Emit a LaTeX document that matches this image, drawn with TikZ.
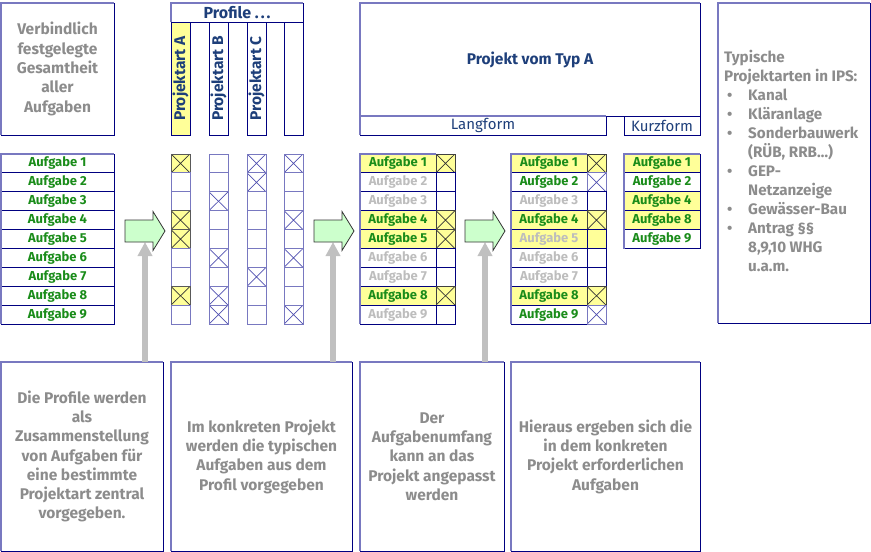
\documentclass[tikz,border=0pt]{standalone}
\usepackage{fontspec}
\setmainfont{Fira Sans}
\usetikzlibrary{arrows.meta}
\definecolor{navyD}{HTML}{000080}
\definecolor{navyL}{HTML}{7878C0}
\definecolor{blueX}{HTML}{5050B0}
\definecolor{txtnavy}{HTML}{1E3F7A}
\definecolor{tgreen}{HTML}{1A8C1A}
\definecolor{tgray}{HTML}{8C8C8C}
\definecolor{tlight}{HTML}{BDBDBD}
\definecolor{yel}{HTML}{FFFF99}
\definecolor{agreen}{HTML}{CCFFCC}
\definecolor{garrow}{HTML}{C0C0C0}
\newcommand\bul{\makebox[24pt][l]{\hspace{3pt}•}}
\newcommand\ind{\hspace*{24pt}}
\tikzset{
  base/.style={anchor=north west, inner sep=0pt, outer sep=0pt, draw=navyD, line width=1pt,
    font=\bfseries\fontsize{13}{15}\selectfont},
  big/.style={base, font=\bfseries\fontsize{15.5}{19.3}\selectfont, align=center},
  lightE/.style={draw=navyL, line width=1.3pt},
  xmark/.style={path picture={\draw[#1, line width=0.7pt]
     (path picture bounding box.north west) -- (path picture bounding box.south east)
     (path picture bounding box.south west) -- (path picture bounding box.north east);}},
  rowc/.style={base, minimum width=76pt, minimum height=18.9pt},
  chkc/.style={base, minimum width=19pt, minimum height=18.9pt},
  pcell/.style={base, draw=navyL, minimum width=19pt, minimum height=18.9pt},
  pcE/.style={},
  pcX/.style={xmark=blueX},
  pcY/.style={fill=yel, draw=black!65, xmark=black!80},
  rYel/.style={fill=yel, text=tgreen},
  rGray/.style={text=tlight},
  rWht/.style={text=tgreen},
  rYG/.style={fill=yel, text=tlight},
  cYel/.style={fill=yel, draw=black!75, xmark=black!80},
  cEmp/.style={},
  cBlu/.style={draw=navyL, xmark=blueX},
  cYE/.style={fill=yel},
  garr/.style={draw=garrow, line width=6pt, -{Triangle[width=14pt,length=14pt]}},
  gshape/.style={fill=agreen, draw=black!80, line width=0.8pt, line join=miter},
  rotlab/.style={rotate=90, text=txtnavy, inner sep=0pt, font=\bfseries\fontsize{15.5}{18}\selectfont},
}
\begin{document}
\begin{tikzpicture}[x=1pt,y=-1pt]
\useasboundingbox (0,0) rectangle (871,552);

% ---- top row ----
\node[big, text=tgray, minimum width=113pt, minimum height=132pt] (ges) at (1,3)
  {Verbindlich\\festgelegte\\Gesamtheit\\aller\\Aufgaben};
\node[base, font=\bfseries\fontsize{16}{18}\selectfont, text=txtnavy, minimum width=132pt, minimum height=19pt] (prof) at (171,3) {Profile .\kern2pt.\kern2pt.};
\node[base, fill=yel, minimum width=19pt, minimum height=113pt] (colA) at (171,22) {};
\node[base, minimum width=19pt, minimum height=113pt] (colB) at (209,22) {};
\node[base, minimum width=19pt, minimum height=113pt] (colC) at (247,22) {};
\node[base, minimum width=19pt, minimum height=113pt] (colD) at (284,22) {};
\node[rotlab] (labA) at (colA.center) {Projektart A};
\node[rotlab] (labB) at (colB.center) {Projektart B};
\node[rotlab] (labC) at (colC.center) {Projektart C};

\node[big, text=txtnavy, minimum width=340pt, minimum height=113pt] (proj) at (360,3) {Projekt vom Typ A};
\node[base, font=\fontsize{15}{18}\selectfont, text=txtnavy, minimum width=246pt, minimum height=19pt] (lang) at (360,116) {Langform};
\node[base, font=\fontsize{15}{18}\selectfont, text=txtnavy, minimum width=76pt, minimum height=19pt] (kurz) at (624,116) {Kurzform};

\node[base, minimum width=152pt, minimum height=320pt] (ips) at (718,3) {};
\node[anchor=west, align=left, inner sep=0pt, text=tgray, font=\bfseries\fontsize{15.2}{19}\selectfont] (ipstext)
  at ([xshift=6pt,yshift=2pt]ips.west)
  {Typische\\
   Projektarten in IPS:\\
   \bul Kanal\\
   \bul Kläranlage\\
   \bul Sonderbauwerk\\
   \ind (RÜB, RRB…)\\
   \bul GEP-\\
   \ind Netzanzeige\\
   \bul Gewässer-Bau\\
   \bul Antrag §§\\
   \ind 8,9,10 WHG\\
   \ind u.a.m.};

% ---- list 1 ----
\foreach \i in {1,...,9}{
  \node[base, style=rWht, minimum width=113pt, minimum height=18.9pt] (la-\i) at (1,{154+18.9*(\i-1)}) {Aufgabe \i};
}
% ---- profile cells ----
\foreach \i/\s in {1/pcY,2/pcE,3/pcE,4/pcY,5/pcY,6/pcE,7/pcE,8/pcY,9/pcE}
  \node[pcell, style=\s] (pA-\i) at (171,{154+18.9*(\i-1)}) {};
\foreach \i/\s in {1/pcE,2/pcE,3/pcX,4/pcE,5/pcE,6/pcX,7/pcE,8/pcX,9/pcX}
  \node[pcell, style=\s] (pB-\i) at (209,{154+18.9*(\i-1)}) {};
\foreach \i/\s in {1/pcX,2/pcX,3/pcE,4/pcE,5/pcE,6/pcE,7/pcX,8/pcE,9/pcE}
  \node[pcell, style=\s] (pC-\i) at (247,{154+18.9*(\i-1)}) {};
\foreach \i/\s in {1/pcX,2/pcE,3/pcE,4/pcX,5/pcE,6/pcX,7/pcE,8/pcE,9/pcX}
  \node[pcell, style=\s] (pD-\i) at (284,{154+18.9*(\i-1)}) {};

% ---- list 3 ----
\foreach \i/\t/\c in {1/rYel/cYel,2/rGray/cEmp,3/rGray/cEmp,4/rYel/cYel,5/rYel/cYel,6/rGray/cEmp,7/rGray/cEmp,8/rYel/cYel,9/rGray/cEmp}{
  \node[rowc, style=\t] (lc-\i) at (360,{154+18.9*(\i-1)}) {Aufgabe \i};
  \node[chkc, style=\c] (cc-\i) at (436,{154+18.9*(\i-1)}) {};
}
% ---- list 4 ----
\foreach \i/\t/\c in {1/rYel/cYel,2/rWht/cBlu,3/rGray/cEmp,4/rYel/cYel,5/rYG/cYE,6/rGray/cEmp,7/rGray/cEmp,8/rYel/cYel,9/rWht/cBlu}{
  \node[rowc, style=\t] (ld-\i) at (511,{154+18.9*(\i-1)}) {Aufgabe \i};
  \node[chkc, style=\c] (cd-\i) at (587,{154+18.9*(\i-1)}) {};
}
% ---- list 5 ----
\foreach \k/\n/\t in {1/1/rYel,2/2/rWht,3/4/rYel,4/8/rYel,5/9/rWht}
  \node[rowc, style=\t] (le-\k) at (624,{154+18.9*(\k-1)}) {Aufgabe \n};

% ---- bottom boxes ----
\node[big, text=tgray, minimum width=162pt, minimum height=189pt] (b1) at (1,362)
  {Die Profile werden\\als\\Zusammenstellung\\von Aufgaben für\\eine bestimmte\\Projektart zentral\\vorgegeben.};
\node[big, text=tgray, minimum width=181pt, minimum height=189pt] (b2) at (171,362)
  {Im konkreten Projekt\\werden die typischen\\Aufgaben aus dem\\Profil vorgegeben};
\node[big, text=tgray, minimum width=144pt, minimum height=189pt] (b3) at (360,362)
  {Der\\Aufgabenumfang\\kann an das\\Projekt angepasst\\werden};
\node[big, text=tgray, minimum width=189pt, minimum height=189pt] (b4) at (511,362)
  {Hieraus ergeben sich die\\in dem konkreten\\Projekt erforderlichen\\Aufgaben};

% ---- light left/top edges ----
\foreach \n in {ges,prof,proj,ips,b1,b2,b3,b4,lang}
  \draw[lightE] (\n.south west) -- (\n.north west) -- (\n.north east);
\draw[lightE] (la-9.south west) -- (la-1.north west) -- (la-1.north east);
\draw[lightE] (lc-9.south west) -- (lc-1.north west) -- (lc-1.north east);
\draw[lightE] (ld-9.south west) -- (ld-1.north west) -- (ld-1.north east);
\draw[lightE] (le-5.south west) -- (le-1.north west) -- (le-1.north east);

% ---- gray arrows ----
\coordinate (t1) at (145,242);
\coordinate (t2) at (333,242);
\coordinate (t3) at (485,242);
\draw[garr] (b1.north -| t1) -- (t1);
\draw[garr] (b2.north -| t2) -- (t2);
\draw[garr] (b3.north -| t3) -- (t3);

% ---- green arrows ----
\foreach \x in {125,314,465}
  \draw[gshape] (\x,220) -- ++(28,0) -- ++(0,-8.5) -- ++(12,19.5) -- ++(-12,19.5) -- ++(0,-8.5) -- ++(-28,0) -- cycle;
\end{tikzpicture}
\end{document}
